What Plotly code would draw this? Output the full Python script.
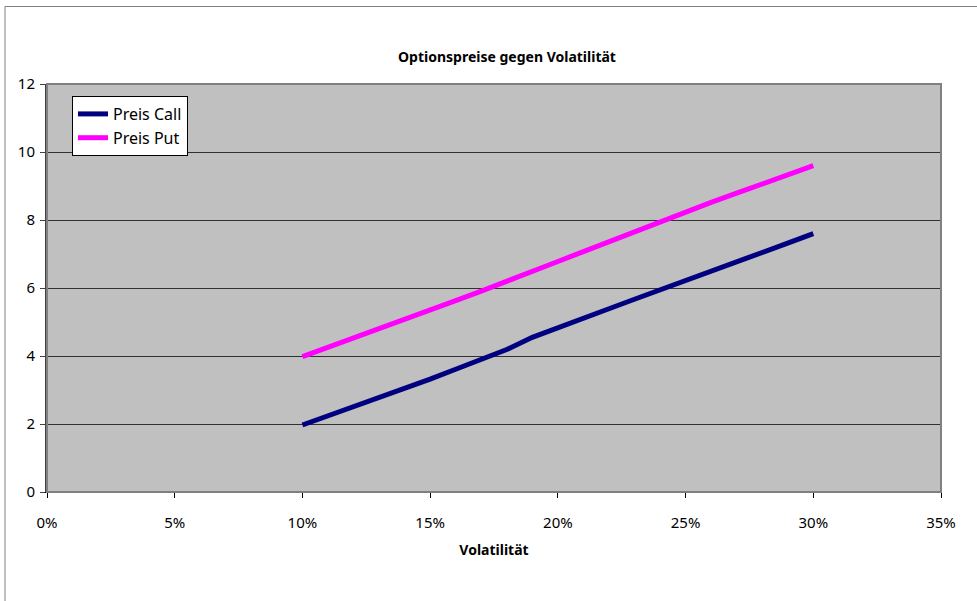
import plotly.graph_objects as go

volatility = [0.10, 0.11, 0.12, 0.13, 0.14, 0.15, 0.16, 0.17, 0.18, 0.19, 0.20,
              0.21, 0.22, 0.23, 0.24, 0.25, 0.26, 0.27, 0.28, 0.29, 0.30]
preis_call = [1.97, 2.24, 2.50, 2.76, 3.03, 3.32, 3.61, 3.90, 4.19, 4.55, 4.84,
              5.12, 5.39, 5.67, 5.94, 6.22, 6.49, 6.77, 7.05, 7.32, 7.60]
preis_put = [3.98, 4.25, 4.52, 4.80, 5.07, 5.35, 5.63, 5.91, 6.19, 6.48, 6.78,
             7.07, 7.36, 7.65, 7.94, 8.25, 8.52, 8.79, 9.06, 9.33, 9.60]
x_ticks = [0, 0.05, 0.10, 0.15, 0.20, 0.25, 0.30, 0.35]
x_tick_labels = ["0%", "5%", "10%", "15%", "20%", "25%", "30%", "35%"]
y_ticks = [0, 2, 4, 6, 8, 10, 12]

W, H = 977, 601
L, R, T, B = 47, 36, 84, 109
pw, ph = W - L - R, H - T - B

font_family = "Noto Sans, Open Sans, sans-serif"

fig = go.Figure()
fig.add_trace(go.Scatter(x=volatility, y=preis_call, mode="lines", name="Preis Call",
                         line=dict(color="#000080", width=5)))
fig.add_trace(go.Scatter(x=volatility, y=preis_put, mode="lines", name="Preis Put",
                         line=dict(color="#FF00FF", width=5)))

def px_x(p):
    return (p - L) / pw

def px_y(p):
    return (H - B - p) / ph

shapes = [
    dict(type="rect", xref="paper", yref="paper",
         x0=px_x(5), x1=px_x(990), y0=px_y(610), y1=px_y(6.5),
         line=dict(color="#808080", width=1), layer="below"),
    dict(type="rect", xref="paper", yref="paper", x0=0, x1=1, y0=0, y1=1,
         line=dict(color="#808080", width=2), layer="above"),
]

fig.update_layout(
    width=W, height=H,
    margin=dict(l=L, r=R, t=T, b=B, pad=0),
    paper_bgcolor="white",
    plot_bgcolor="#C0C0C0",
    font=dict(family=font_family, size=15, color="black"),
    title=dict(text="<b>Optionspreise gegen Volatilität</b>", x=507 / W, xanchor="center",
               y=1 - 57 / H, yanchor="middle", font=dict(size=14, family=font_family)),
    showlegend=True,
    legend=dict(x=px_x(72), y=px_y(96), xanchor="left", yanchor="top",
                bgcolor="white", bordercolor="black", borderwidth=1,
                font=dict(size=16, family=font_family), tracegroupgap=0,
                itemwidth=30),
    shapes=shapes,
    xaxis=dict(range=[0, 0.35], tickvals=x_ticks, ticktext=x_tick_labels,
               showgrid=False, zeroline=False, showline=True, linecolor="black", linewidth=1,
               ticks="outside", ticklen=5, tickcolor="black", ticklabelstandoff=12,
               title=dict(text="<b>Volatilität</b>", font=dict(size=14, family=font_family), standoff=14),
               tickfont=dict(size=15)),
    yaxis=dict(range=[0, 12], tickvals=y_ticks, showgrid=True, gridcolor="#303030", gridwidth=1,
               zeroline=False, showline=True, linecolor="#404040", linewidth=2,
               ticks="outside", ticklen=5, tickcolor="#404040", ticklabelstandoff=2,
               tickfont=dict(size=15)),
)

fig.write_html("out.html")
